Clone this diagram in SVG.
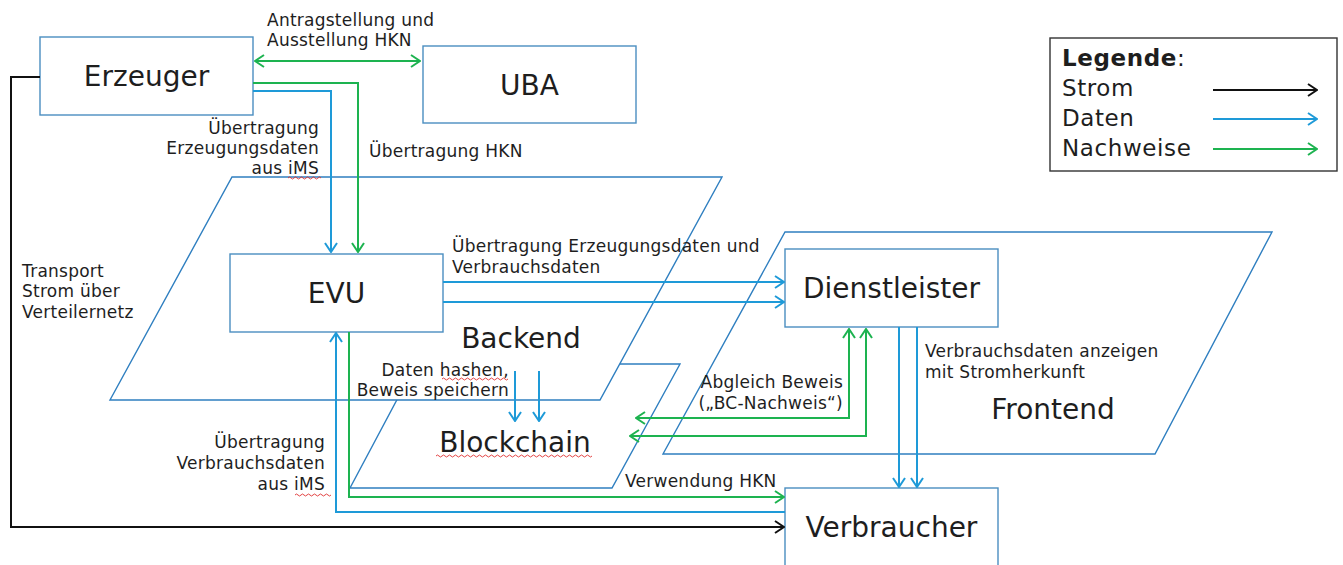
<svg xmlns="http://www.w3.org/2000/svg" width="1343" height="565" viewBox="0 0 1343 565">
  <style>
    text { font-family: "DejaVu Sans", "Open Sans", sans-serif; fill: #1e1e1e; }
    .big { font-size: 28px; }
    .lbl { font-size: 17px; letter-spacing: 0.25px; }
    .leg { font-size: 23px; letter-spacing: 0.6px; }
    .box { fill: #ffffff; stroke: #4a8ec0; stroke-width: 1.4; }
    .area { stroke: #2f7fc0; stroke-width: 1.4; }
    .con { fill: none; stroke-width: 2; }
    .strom { stroke: #111111; }
    .daten { stroke: #1e9ad8; }
    .nachweis { stroke: #1db350; }
    .squiggle { fill: none; stroke: #e03030; stroke-width: 0.9; }
  </style>
  <defs>
    <marker id="ah-black" viewBox="0 0 11 14" refX="10" refY="7" markerWidth="11" markerHeight="14" markerUnits="userSpaceOnUse" orient="auto-start-reverse">
      <path d="M1,1 L10,7 L1,13" fill="none" stroke="#111111" stroke-width="2"/>
    </marker>
    <marker id="ah-blue" viewBox="0 0 11 14" refX="10" refY="7" markerWidth="11" markerHeight="14" markerUnits="userSpaceOnUse" orient="auto-start-reverse">
      <path d="M1,1 L10,7 L1,13" fill="none" stroke="#1e9ad8" stroke-width="2"/>
    </marker>
    <marker id="ah-green" viewBox="0 0 11 14" refX="10" refY="7" markerWidth="11" markerHeight="14" markerUnits="userSpaceOnUse" orient="auto-start-reverse">
      <path d="M1,1 L10,7 L1,13" fill="none" stroke="#1db350" stroke-width="2"/>
    </marker>
  </defs>

  <rect width="1343" height="565" fill="#ffffff"/>

  <!-- system layers (Blockchain sits behind the Backend layer) -->
  <g id="blockchain">
    <polygon class="area" fill="#ffffff" points="416,364 680,364 612,488 350,488"/>
  </g>
  <g id="backend">
    <polygon class="area" fill="#ffffff" points="232,177 722,177 600,400 110,400"/>
  </g>
  <g id="frontend">
    <polygon class="area" fill="none" points="785,232 1272,232 1155,454 663,454"/>
  </g>

  <!-- actors -->
  <g id="erzeuger">
    <rect class="box" x="40" y="37" width="213" height="78"/>
    <text class="big" x="146.5" y="86" text-anchor="middle">Erzeuger</text>
  </g>
  <g id="uba">
    <rect class="box" x="423" y="46" width="213" height="77"/>
    <text class="big" x="529.5" y="95" text-anchor="middle">UBA</text>
  </g>
  <g id="evu">
    <rect class="box" x="230" y="254" width="213" height="78"/>
    <text class="big" x="336.5" y="303" text-anchor="middle">EVU</text>
  </g>
  <g id="dienstleister">
    <rect class="box" x="785" y="249" width="213" height="78"/>
    <text class="big" x="891.5" y="298" text-anchor="middle">Dienstleister</text>
  </g>
  <g id="verbraucher">
    <rect class="box" x="785" y="488" width="213" height="90"/>
    <text class="big" x="891.5" y="537" text-anchor="middle">Verbraucher</text>
  </g>

  <!-- connectors -->
  <g id="connectors">
    <path class="con strom" d="M40,77 H11 V527 H784" marker-end="url(#ah-black)"/>
    <path class="con nachweis" d="M255,61 H420" marker-start="url(#ah-green)" marker-end="url(#ah-green)"/>
    <path class="con nachweis" d="M253,83 H358 V252" marker-end="url(#ah-green)"/>
    <path class="con daten" d="M253,91 H331 V252" marker-end="url(#ah-blue)"/>
    <path class="con daten" d="M443,282 H784" marker-end="url(#ah-blue)"/>
    <path class="con daten" d="M443,302 H784" marker-end="url(#ah-blue)"/>
    <path class="con daten" d="M515,371 V421" marker-end="url(#ah-blue)"/>
    <path class="con daten" d="M539,371 V421" marker-end="url(#ah-blue)"/>
    <path class="con nachweis" d="M849,329 V418 H636" marker-start="url(#ah-green)" marker-end="url(#ah-green)"/>
    <path class="con nachweis" d="M866,329 V436 H630" marker-start="url(#ah-green)" marker-end="url(#ah-green)"/>
    <path class="con daten" d="M899,327 V487" marker-end="url(#ah-blue)"/>
    <path class="con daten" d="M917,327 V487" marker-end="url(#ah-blue)"/>
    <path class="con daten" d="M785,512 H336 V333" marker-end="url(#ah-blue)"/>
    <path class="con nachweis" d="M349,332 V497 H784" marker-end="url(#ah-green)"/>
  </g>

  <!-- layer titles -->
  <text class="big" x="521" y="348" text-anchor="middle">Backend</text>
  <text class="big" x="515" y="452" text-anchor="middle">Blockchain</text>
  <text class="big" x="1053" y="419" text-anchor="middle">Frontend</text>

  <!-- flow labels -->
  <text class="lbl" x="267" y="26">Antragstellung und</text>
  <text class="lbl" x="267" y="46">Ausstellung HKN</text>
  <text class="lbl" x="319" y="134" text-anchor="end">Übertragung</text>
  <text class="lbl" x="319" y="154" text-anchor="end">Erzeugungsdaten</text>
  <text class="lbl" x="319" y="174" text-anchor="end">aus iMS</text>
  <text class="lbl" x="369" y="157">Übertragung HKN</text>
  <text class="lbl" x="22" y="277">Transport</text>
  <text class="lbl" x="22" y="297">Strom über</text>
  <text class="lbl" x="22" y="318">Verteilernetz</text>
  <text class="lbl" x="452" y="252">Übertragung Erzeugungsdaten und</text>
  <text class="lbl" x="452" y="273">Verbrauchsdaten</text>
  <text class="lbl" x="509" y="376" text-anchor="end">Daten hashen,</text>
  <text class="lbl" x="509" y="396" text-anchor="end">Beweis speichern</text>
  <text class="lbl" x="325" y="448" text-anchor="end">Übertragung</text>
  <text class="lbl" x="325" y="469" text-anchor="end">Verbrauchsdaten</text>
  <text class="lbl" x="325" y="490" text-anchor="end">aus iMS</text>
  <text class="lbl" x="843" y="388" text-anchor="end">Abgleich Beweis</text>
  <text class="lbl" x="843" y="409" text-anchor="end">(„BC-Nachweis“)</text>
  <text class="lbl" x="925" y="357">Verbrauchsdaten anzeigen</text>
  <text class="lbl" x="925" y="378">mit Stromherkunft</text>
  <text class="lbl" x="625" y="487">Verwendung HKN</text>

  <!-- spell-check marks under flagged words -->
  <path class="squiggle" d="M288,178 q1.5,-2 3,0 t3,0 t3,0 t3,0 t3,0 t3,0 t3,0 t3,0 t3,0 t3,0 t3,0"/>
  <path class="squiggle" d="M295,495 q1.5,-2 3,0 t3,0 t3,0 t3,0 t3,0 t3,0 t3,0 t3,0 t3,0 t3,0 t3,0 t3,0"/>
  <path class="squiggle" d="M442,379 q1.5,-2 3,0 t3,0 t3,0 t3,0 t3,0 t3,0 t3,0 t3,0 t3,0 t3,0 t3,0 t3,0 t3,0 t3,0 t3,0 t3,0 t3,0 t3,0 t3,0 t3,0 t3,0 t3,0"/>
  <path class="squiggle" d="M436,456 q1.5,-2 3,0 t3,0 t3,0 t3,0 t3,0 t3,0 t3,0 t3,0 t3,0 t3,0 t3,0 t3,0 t3,0 t3,0 t3,0 t3,0 t3,0 t3,0 t3,0 t3,0 t3,0 t3,0 t3,0 t3,0 t3,0 t3,0 t3,0 t3,0 t3,0 t3,0 t3,0 t3,0 t3,0 t3,0 t3,0 t3,0 t3,0 t3,0 t3,0 t3,0 t3,0 t3,0 t3,0 t3,0 t3,0 t3,0 t3,0 t3,0 t3,0 t3,0 t3,0 t3,0"/>

  <!-- legend -->
  <g id="legende">
    <rect x="1050" y="38" width="287" height="133" fill="#ffffff" stroke="#333333" stroke-width="1.4"/>
    <text class="leg" x="1062" y="66"><tspan font-weight="bold">Legende</tspan>:</text>
    <text class="leg" x="1062" y="96">Strom</text>
    <text class="leg" x="1062" y="126">Daten</text>
    <text class="leg" x="1062" y="156">Nachweise</text>
    <path class="con strom" d="M1213,90 H1317" marker-end="url(#ah-black)"/>
    <path class="con daten" d="M1213,119 H1317" marker-end="url(#ah-blue)"/>
    <path class="con nachweis" d="M1213,149 H1317" marker-end="url(#ah-green)"/>
  </g>
</svg>
